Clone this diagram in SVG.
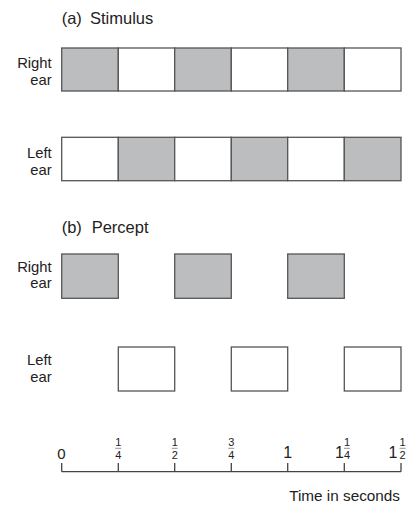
<svg xmlns="http://www.w3.org/2000/svg" width="410" height="505" viewBox="0 0 410 505">
<style>
text{font-family:"Liberation Sans",Arial,sans-serif;fill:#222}
.t{font-size:16.5px}
.lbl{font-size:14.8px;text-anchor:end}
.num{font-size:15px;text-anchor:middle}
.fr{font-size:11px;text-anchor:middle}
.box{stroke:#555;stroke-width:1.3}
.g{fill:#bcbdbf}
.w{fill:#fff}
.ax{stroke:#444;stroke-width:1.3;fill:none}
.bar{stroke:#666;stroke-width:0.7}
</style>
<rect width="410" height="505" fill="#fff"/>

<g id="title-a"><text class="t" x="61.7" y="24">(a)</text><text class="t" x="90" y="24">Stimulus</text></g>

<g id="stim-right">
<text class="lbl" x="51.7" y="68.3">Right</text><text class="lbl" x="51.7" y="85">ear</text>
<rect class="box g" x="61.7" y="48" width="56.6" height="43"/>
<rect class="box w" x="118.3" y="48" width="56.4" height="43"/>
<rect class="box g" x="174.7" y="48" width="56.6" height="43"/>
<rect class="box w" x="231.3" y="48" width="56.4" height="43"/>
<rect class="box g" x="287.7" y="48" width="56.6" height="43"/>
<rect class="box w" x="344.3" y="48" width="56.7" height="43"/>
</g>

<g id="stim-left">
<text class="lbl" x="51.7" y="158.3">Left</text><text class="lbl" x="51.7" y="175">ear</text>
<rect class="box w" x="61.7" y="137.3" width="56.6" height="43.4"/>
<rect class="box g" x="118.3" y="137.3" width="56.4" height="43.4"/>
<rect class="box w" x="174.7" y="137.3" width="56.6" height="43.4"/>
<rect class="box g" x="231.3" y="137.3" width="56.4" height="43.4"/>
<rect class="box w" x="287.7" y="137.3" width="56.6" height="43.4"/>
<rect class="box g" x="344.3" y="137.3" width="56.7" height="43.4"/>
</g>

<g id="title-b"><text class="t" x="61.7" y="232.7">(b)</text><text class="t" x="91.7" y="232.7">Percept</text></g>

<g id="perc-right">
<text class="lbl" x="51.7" y="271.7">Right</text><text class="lbl" x="51.7" y="288.3">ear</text>
<rect class="box g" x="61.7" y="254" width="56.6" height="44.3"/>
<rect class="box g" x="174.7" y="254" width="56.6" height="44.3"/>
<rect class="box g" x="287.7" y="254" width="56.6" height="44.3"/>
</g>

<g id="perc-left">
<text class="lbl" x="51.7" y="365">Left</text><text class="lbl" x="51.7" y="381.7">ear</text>
<rect class="box w" x="118.3" y="347" width="56.4" height="44"/>
<rect class="box w" x="231.3" y="347" width="56.4" height="44"/>
<rect class="box w" x="344.3" y="347" width="56.7" height="44"/>
</g>

<g id="axis">
<path class="ax" d="M61.7 471.7H401M61.7 463V471.7M118.3 463V471.7M174.7 463V471.7M231.3 463V471.7M287.7 463V471.7M344.3 463V471.7M401 463V471.7"/>
<text class="num" x="61.5" y="458.5">0</text>
<text class="fr" x="118.3" y="446">1</text><line class="bar" x1="115.3" y1="448.3" x2="121.3" y2="448.3"/><text class="fr" x="118.3" y="459">4</text>
<text class="fr" x="174.7" y="446">1</text><line class="bar" x1="171.7" y1="448.3" x2="177.7" y2="448.3"/><text class="fr" x="174.7" y="459">2</text>
<text class="fr" x="231.3" y="446">3</text><line class="bar" x1="228.3" y1="448.3" x2="234.3" y2="448.3"/><text class="fr" x="231.3" y="459">4</text>
<text class="num" x="287.7" y="457.5" style="font-size:16px">1</text>
<text class="num" x="339.5" y="457.5" style="font-size:16px">1</text>
<text class="fr" x="347" y="446">1</text><line class="bar" x1="344" y1="448.3" x2="350" y2="448.3"/><text class="fr" x="347" y="459">4</text>
<text class="num" x="393" y="457.5" style="font-size:16px">1</text>
<text class="fr" x="402.5" y="446">1</text><line class="bar" x1="399.5" y1="448.3" x2="405.5" y2="448.3"/><text class="fr" x="402.5" y="459">2</text>
<text x="400" y="500.5" style="font-size:15.3px;text-anchor:end">Time in seconds</text>
</g>
</svg>
